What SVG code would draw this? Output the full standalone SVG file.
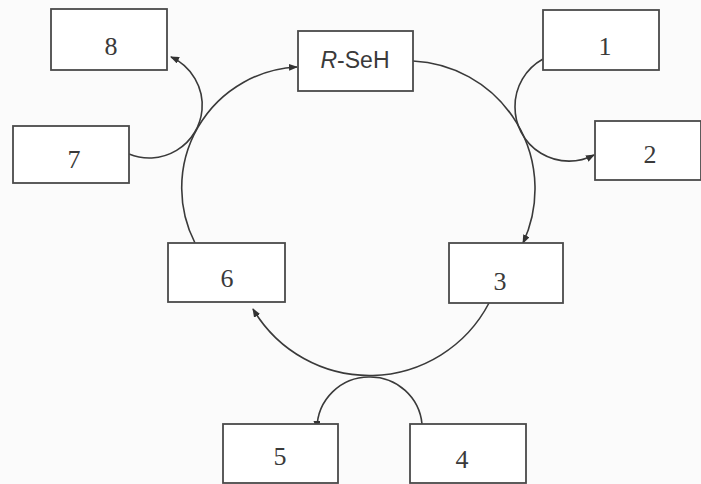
<svg xmlns="http://www.w3.org/2000/svg" width="701" height="484" viewBox="0 0 701 484">
<style>
.box{fill:#fff;stroke:#4a4a4a;stroke-width:1.8}
.num{font-family:"Liberation Serif","Times New Roman",serif;font-size:26px;fill:#3a3a3a;text-anchor:middle}
.lbl{font-family:"Liberation Sans",Arial,sans-serif;font-size:23px;fill:#3a3a3a;text-anchor:middle}
.c{fill:none;stroke:#3a3a3a;stroke-width:1.6}
.a{marker-end:url(#arr)}
</style>
<defs>
<marker id="arr" markerWidth="9" markerHeight="7" refX="8" refY="3.5" orient="auto" markerUnits="userSpaceOnUse">
<path d="M0,0 L9,3.5 L0,7 Z" fill="#333"/>
</marker>
</defs>
<rect width="701" height="484" fill="#fbfbfb"/>
<g id="connectors">
<path class="c a" d="M413,61 A128,128 0 0 1 523,243"/>
<path class="c a" d="M489,303 A135,135 0 0 1 253,309"/>
<path class="c a" d="M195,243 A121,121 0 0 1 297,67"/>
<path class="c a" d="M543,59 A54,54 0 0 0 515,107 A54,54 0 0 0 594,155"/>
<path class="c a" d="M129,154 A53,53 0 0 0 202,110 A53,53 0 0 0 171,57"/>
<path class="c a" d="M422,424 A52,52 0 0 0 370,377 A52,52 0 0 0 317,429"/>
</g>
<g id="nRSeH"><rect class="box" x="298" y="31" width="115" height="60"/><text class="lbl" x="355" y="68"><tspan font-style="italic">R</tspan>-SeH</text></g>
<g id="n1"><rect class="box" x="543" y="10" width="116" height="60"/><text class="num" x="605" y="55">1</text></g>
<g id="n2"><rect class="box" x="595" y="121" width="106" height="59"/><text class="num" x="650" y="163">2</text></g>
<g id="n3"><rect class="box" x="449" y="243" width="114" height="60"/><text class="num" x="500" y="290">3</text></g>
<g id="n4"><rect class="box" x="410" y="424" width="116" height="59"/><text class="num" x="462" y="468">4</text></g>
<g id="n5"><rect class="box" x="223" y="424" width="115" height="59"/><text class="num" x="280" y="465">5</text></g>
<g id="n6"><rect class="box" x="168" y="243" width="117" height="59"/><text class="num" x="227" y="287">6</text></g>
<g id="n7"><rect class="box" x="13" y="126" width="116" height="57"/><text class="num" x="74" y="168">7</text></g>
<g id="n8"><rect class="box" x="51" y="9" width="116" height="61"/><text class="num" x="111" y="55">8</text></g>
</svg>
